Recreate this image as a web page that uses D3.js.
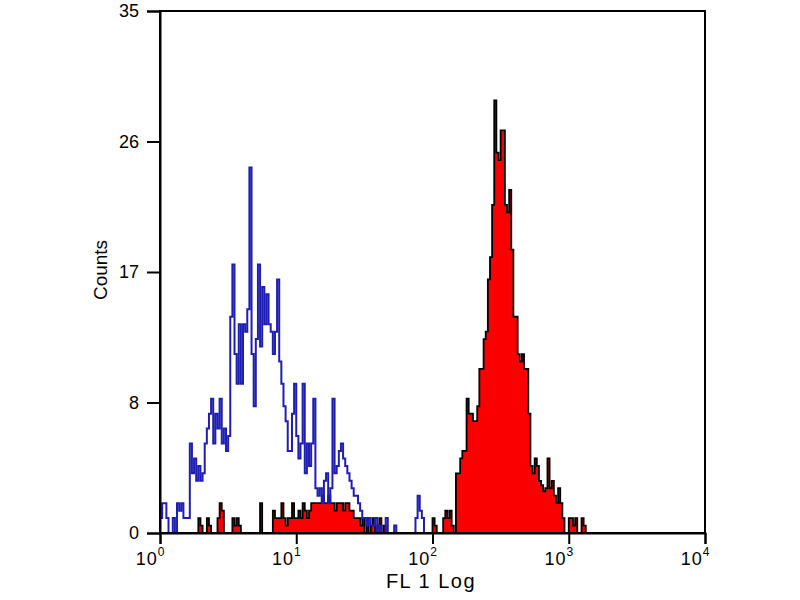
<!DOCTYPE html>
<html>
<head>
<meta charset="utf-8">
<script src="https://cdn.jsdelivr.net/npm/d3@7"></script>
<style>
  html, body { margin: 0; padding: 0; background: #fff; }
  svg { display: block; }
</style>
</head>
<body>
<svg id="chart" width="800" height="600"></svg>
<script>
// ---- data (channel counts, 64 channels per decade, starting at 10^0) ----
const channelsPerDecade = 64;
const xTickValues = [1, 10, 100, 1000, 10000];
const xTickExponents = ["0", "1", "2", "3", "4"];
const yTickValues = [0, 8.75, 17.5, 26.25, 35];
const yTickLabels = ["0", "8", "17", "26", "35"];
const xAxisTitle = "FL 1 Log";
const yAxisTitle = "Counts";

// isotype control (blue outline)
const blueCounts = [
  1, 2, 2, 1, 0, 0, 1, 0, 2, 1.5,
  2, 1, 1, 1, 6, 4, 5, 3.5, 4.5, 3.5,
  4, 6, 7, 8, 9, 6, 8, 7, 9, 6,
  7, 5.5, 6.5, 14.5, 18, 12, 10, 14, 10, 14,
  13.5, 15, 24.5, 12, 8.5, 13, 18, 12.5, 16.5, 14,
  16, 14, 13.5, 12, 13.5, 17, 11.5, 10, 8.5, 7.5,
  5.5, 5.5, 8, 10, 6.5, 5, 6, 10, 4, 6,
  4.5, 6, 9, 3, 2.5, 3, 2, 3.5, 4, 2,
  3, 9, 4, 4.5, 5.5, 6, 5, 4.5, 4, 3.5,
  3, 2.5, 2.5, 2, 1.5, 1, 1, 0.5, 1, 0.5,
  0.5, 1, 0, 0.5, 0, 0, 1, 0, 0, 0,
  0.5, 0, 0, 0, 0, 0, 0, 0, 0, 0,
  1, 2.5, 1.5, 1, 0, 0, 0, 0, 0, 0
];

// stained sample (red filled)
const redCounts = [
  0, 0, 0, 0, 0, 0, 0, 0, 0, 0,
  0, 0, 0, 0, 0, 0, 0, 0, 1, 0.5,
  0, 0, 1, 0.5, 0, 0, 0, 1, 2, 1.5,
  0, 0, 0, 0, 1, 0.5, 1, 0.5, 0, 0,
  0, 0, 0, 0, 0, 0, 0, 2, 0, 0,
  0, 0, 0, 1.5, 1, 1, 1, 2, 1, 0.5,
  1, 1, 2, 1, 1, 1.5, 1, 2, 1.5, 1,
  1.5, 2, 2, 2, 2, 2, 2.5, 2, 2, 2.5,
  2, 2, 1.5, 2, 2, 2, 1.5, 2, 2, 1.5,
  1.5, 1, 1, 1, 0.5, 1, 0, 1, 0, 0.5,
  1, 0, 0.5, 1, 0, 0.5, 0, 0, 0, 0,
  0, 0, 0, 0, 0, 0, 0, 0, 0, 0,
  0, 0, 0, 0, 0, 0, 0, 0, 1, 0.5,
  0, 0, 0, 1, 1.5, 1, 1.5, 0.5, 0, 4,
  4, 5, 5.5, 5.5, 9, 8, 8, 7.5, 7.5, 8.5,
  11, 11, 13, 13.5, 17, 18.5, 22, 29, 25.5, 25,
  27, 27, 22, 21.5, 23, 19, 14.5, 14.5, 12, 11.5,
  12, 11, 11, 8, 4.5, 4, 5, 4.5, 3.5, 3.2,
  2.8, 3, 5, 3, 3.5, 2.5, 2, 3, 2, 1,
  0, 0, 1, 1, 0.5, 1, 0, 0, 1, 0.5,
  0
];

// ---- layout ----
const svg = d3.select("#chart");
const plotLeft = 160, plotRight = 705, plotTop = 11, plotBottom = 533;

const x = d3.scaleLog().domain([1, 1e4]).range([plotLeft, plotRight]);
const y = d3.scaleLinear().domain([0, 35]).range([plotBottom, plotTop]);

const chanVal = i => Math.pow(10, i / channelsPerDecade);

function stepPoints(counts) {
  const pts = counts.map((c, i) => ({ v: chanVal(i), c }));
  pts.push({ v: chanVal(counts.length), c: 0 });
  return pts;
}

svg.append("rect").attr("width", 800).attr("height", 600).attr("fill", "#fff");

// red filled histogram
const redArea = d3.area()
  .x(d => x(d.v))
  .y0(y(0))
  .y1(d => y(d.c))
  .curve(d3.curveStepAfter);

svg.append("path")
  .datum(stepPoints(redCounts))
  .attr("d", redArea)
  .attr("fill", "#fa0000")
  .attr("stroke", "#000")
  .attr("stroke-width", 1.8)
  .attr("stroke-linejoin", "miter");

// blue outline histogram
const blueLine = d3.line()
  .x(d => x(d.v))
  .y(d => y(d.c))
  .curve(d3.curveStepAfter);

svg.append("path")
  .datum(stepPoints(blueCounts))
  .attr("d", blueLine)
  .attr("fill", "none")
  .attr("stroke", "#1e1eb4")
  .attr("stroke-width", 2);

// frame
svg.append("rect")
  .attr("x", plotLeft).attr("y", plotTop)
  .attr("width", plotRight - plotLeft).attr("height", plotBottom - plotTop)
  .attr("fill", "none").attr("stroke", "#000").attr("stroke-width", 2);

// y axis
const yAxis = d3.axisLeft(y)
  .tickValues(yTickValues)
  .tickSize(13)
  .tickPadding(8)
  .tickFormat((d, i) => yTickLabels[i]);

const gy = svg.append("g").attr("transform", `translate(${plotLeft},0)`).call(yAxis);
gy.select(".domain").attr("stroke-width", 2);
gy.selectAll(".tick line").attr("stroke-width", 2);
gy.selectAll(".tick text")
  .attr("font-family", "Liberation Sans, Arial, sans-serif")
  .attr("font-size", 18)
  .attr("fill", "#000");

// x axis
const xAxis = d3.axisBottom(x)
  .tickValues(xTickValues)
  .tickSize(11)
  .tickFormat("");

const gx = svg.append("g").attr("transform", `translate(0,${plotBottom})`).call(xAxis);
gx.select(".domain").attr("stroke-width", 2);
gx.selectAll(".tick line").attr("stroke-width", 2);
gx.selectAll(".tick").each(function (d, i) {
  const t = d3.select(this).append("text")
    .attr("x", 5)
    .attr("y", 32)
    .attr("text-anchor", "end")
    .attr("fill", "#000")
    .attr("font-family", "Liberation Sans, Arial, sans-serif")
    .attr("font-size", 18)
    .attr("letter-spacing", 1);
  t.append("tspan").text("10");
  t.append("tspan")
    .attr("font-size", 12)
    .attr("dy", -9)
    .text(xTickExponents[i]);
});

// axis titles
svg.append("text")
  .attr("x", 431)
  .attr("y", 588)
  .attr("text-anchor", "middle")
  .attr("font-family", "Liberation Sans, Arial, sans-serif")
  .attr("font-size", 20)
  .attr("letter-spacing", 1.5)
  .attr("fill", "#000")
  .text(xAxisTitle);

svg.append("text")
  .attr("transform", "translate(107,270) rotate(-90)")
  .attr("text-anchor", "middle")
  .attr("font-family", "Liberation Sans, Arial, sans-serif")
  .attr("font-size", 19)
  .attr("fill", "#000")
  .text(yAxisTitle);
</script>
</body>
</html>
